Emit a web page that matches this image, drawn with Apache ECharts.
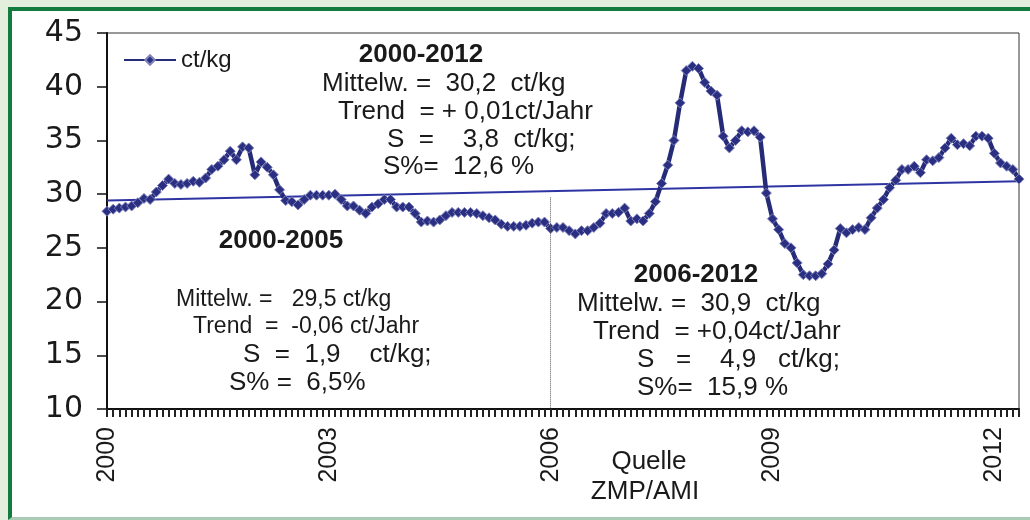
<!DOCTYPE html>
<html>
<head>
<meta charset="utf-8">
<script src="https://cdn.jsdelivr.net/npm/echarts@6/dist/echarts.min.js"></script>
<style>
  html, body { margin: 0; padding: 0; width: 1030px; height: 520px; overflow: hidden; background: #e4eedd; }
  #frame { position: absolute; left: 8px; top: 7px; width: 1040px; height: 506px; background: #ffffff;
           border-left: 4px solid #137b3d; border-top: 4px solid #137b3d; border-bottom: 3px solid #a9cab4; }
  #main { position: absolute; left: 0; top: 0; width: 1030px; height: 520px; }
</style>
</head>
<body>
<div id="frame"></div>
<div id="main"></div>
<script>
// Milchpreis ct/kg, monatlich ab Jan 2000
var startYear = 2000;
var prices = [
    28.4, 28.6, 28.7, 28.8, 28.9, 29.2, 29.6, 29.5, 30.2, 30.8, 31.4, 31.0,
    30.9, 31.0, 31.2, 31.1, 31.5, 32.3, 32.6, 33.2, 34.0, 33.2, 34.4, 34.3,
    31.8, 33.0, 32.5, 31.8, 30.4, 29.4, 29.3, 29.0, 29.5, 29.9, 29.9, 29.9,
    29.9, 30.0, 29.5, 28.9, 28.9, 28.5, 28.2, 28.8, 29.1, 29.5, 29.5, 28.8,
    28.8, 28.8, 28.2, 27.4, 27.5, 27.4, 27.6, 28.0, 28.3, 28.3, 28.3, 28.3,
    28.2, 28.0, 27.8, 27.6, 27.2, 27.0, 27.0, 27.0, 27.1, 27.3, 27.4, 27.4,
    26.8, 26.9, 26.9, 26.6, 26.3, 26.6, 26.6, 26.9, 27.3, 28.2, 28.2, 28.3,
    28.7, 27.5, 27.7, 27.5, 28.2, 29.3, 31.0, 32.7, 35.0, 38.5, 41.5, 41.9,
    41.7, 40.4, 39.6, 39.2, 35.4, 34.3, 35.0, 35.9, 35.8, 35.9, 35.3, 30.1,
    27.7, 26.7, 25.4, 25.0, 23.6, 22.5, 22.4, 22.4, 22.6, 23.5, 24.8, 26.8,
    26.4, 26.7, 26.9, 26.7, 27.8, 28.7, 29.5, 30.6, 31.3, 32.3, 32.3, 32.6,
    32.0, 33.2, 33.1, 33.4, 34.3, 35.2, 34.6, 34.7, 34.5, 35.4, 35.4, 35.2,
    33.8, 32.9, 32.6, 32.3, 31.4
];
// Trendlinie (Anfangs- und Endpunkt)
var trendIdx = [0, 148];
var trendVals = [29.4, 31.2];
// gepunktete Trennlinie bei Jan 2006
var splitIdx = 72;
var splitTop = 29.7;

var months = [];
for (var i = 0; i < prices.length; i++) {
    months.push((startYear + Math.floor(i / 12)) + '-' + (i % 12 + 1));
}
var trendData = [];
for (var i = 0; i < prices.length; i++) {
    var k = trendIdx.indexOf(i);
    trendData.push(k >= 0 ? trendVals[k] : null);
}

var font = "'Liberation Sans', Arial, sans-serif";
function txt(x, y, s, align, bold, size) {
    return {
        type: 'text', x: x, y: y, silent: true,
        style: {
            text: s, fill: '#1a1a1a', font: (bold ? 'bold ' : '') + (size || 26) + 'px ' + font,
            textAlign: align || 'left', textVerticalAlign: 'middle'
        }
    };
}

var myChart = echarts.init(document.getElementById('main'));
var option = {
    animation: false,
    backgroundColor: 'transparent',
    grid: {
        left: 107, right: 11, top: 33, bottom: 111,
        show: true, borderColor: '#333', borderWidth: 1
    },
    legend: {
        data: ['ct/kg'],
        left: 118, top: 43,
        itemWidth: 52, itemHeight: 12,
        textStyle: { fontSize: 24, color: '#1a1a1a', fontFamily: font }
    },
    xAxis: {
        type: 'category',
        data: months,
        boundaryGap: false,
        axisLine: { lineStyle: { color: '#111', width: 2 } },
        axisTick: { interval: 0, length: 8, lineStyle: { color: '#222', width: 2 } },
        axisLabel: {
            interval: function (index) { return index % 36 === 0; },
            formatter: function (v) { return v.split('-')[0]; },
            rotate: 90, margin: 18,
            fontSize: 25, color: '#1a1a1a', fontFamily: font
        },
        splitLine: { show: false }
    },
    yAxis: {
        type: 'value',
        min: 10, max: 45, interval: 5,
        axisLine: { show: true, lineStyle: { color: '#111', width: 2 } },
        axisTick: { show: true, length: 10, lineStyle: { color: '#111', width: 1.5 } },
        axisLabel: { fontSize: 30, color: '#1a1a1a', margin: 24, fontFamily: "'DejaVu Sans', sans-serif" },
        splitLine: { show: false }
    },
    series: [{
        name: 'ct/kg',
        type: 'line',
        data: prices,
        symbol: 'diamond',
        symbolSize: 10,
        showAllSymbol: true,
        lineStyle: { color: '#262b78', width: 4.5 },
        itemStyle: { color: '#2a2f82', borderColor: '#7e82bb', borderWidth: 1 },
        z: 3
    }, {
        name: 'Trend',
        type: 'line',
        data: trendData,
        connectNulls: true,
        symbol: 'none',
        lineStyle: { color: '#2e35a3', width: 2 },
        silent: true,
        z: 2,
        markLine: {
            silent: true,
            symbol: 'none',
            label: { show: false },
            lineStyle: { type: 'dotted', color: '#555', width: 1 },
            data: [[{ coord: [splitIdx, splitTop] }, { coord: [splitIdx, 10] }]]
        }
    }],
    graphic: [
        txt(421, 55, '2000-2012', 'center', true),
        txt(322, 84, 'Mittelw. =  30,2  ct/kg'),
        txt(338, 112, 'Trend  = + 0,01ct/Jahr'),
        txt(387, 140, 'S  =    3,8  ct/kg;'),
        txt(383, 167, 'S%=  12,6 %'),

        txt(281, 241, '2000-2005', 'center', true),
        txt(176, 300, 'Mittelw. =   29,5 ct/kg', 'left', false, 23),
        txt(193, 327, 'Trend  =  -0,06 ct/Jahr', 'left', false, 23),
        txt(243, 355, 'S  =  1,9    ct/kg;'),
        txt(229, 383, 'S% =  6,5%'),

        txt(696, 275, '2006-2012', 'center', true),
        txt(577, 304, 'Mittelw. =  30,9  ct/kg'),
        txt(593, 332, 'Trend  = +0,04ct/Jahr'),
        txt(637, 360, 'S   =    4,9   ct/kg;'),
        txt(637, 388, 'S%=  15,9 %'),

        txt(649, 462, 'Quelle', 'center'),
        txt(645, 492, 'ZMP/AMI', 'center')
    ]
};
myChart.setOption(option);
window.onresize = myChart.resize;
</script>
</body>
</html>
